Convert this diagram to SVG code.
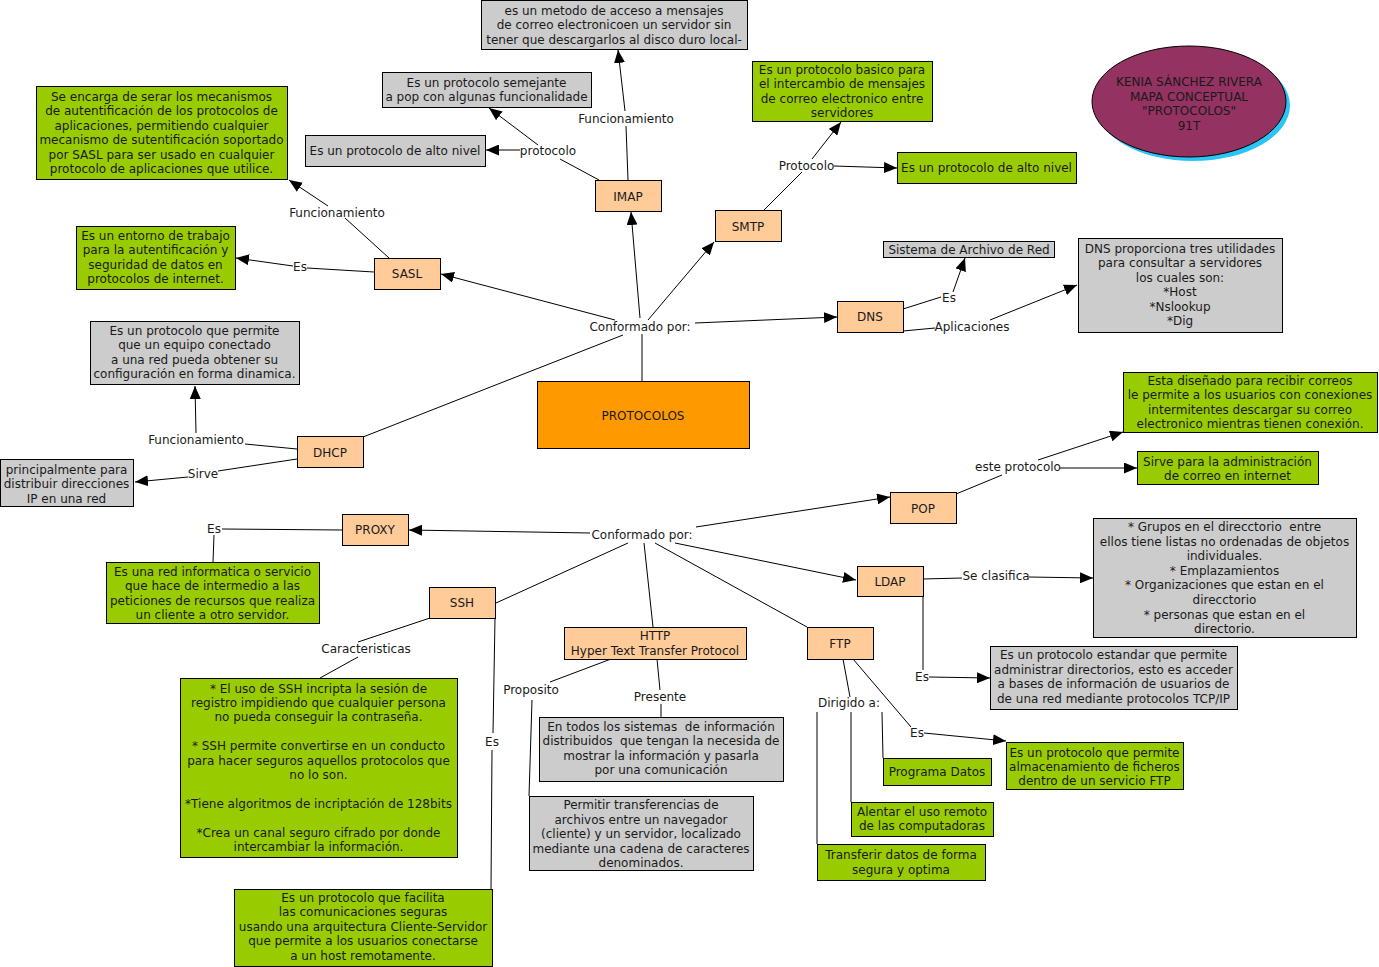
<svg xmlns="http://www.w3.org/2000/svg" width="1379" height="967" viewBox="0 0 1379 967">
<style>
.n{stroke:#000;stroke-width:1}
.pe{fill:#ffcc99}
.gr{fill:#cccccc}
.gn{fill:#99cc00}
text{font-family:"DejaVu Sans",Verdana,sans-serif;font-size:12px;fill:#1a1a1a;text-anchor:middle}
#connectors path{stroke:#000;stroke-width:1;fill:none}
.ar{marker-end:url(#a)}
</style>
<defs>
<marker id="a" markerWidth="13" markerHeight="11" refX="13" refY="5.5" orient="auto" markerUnits="userSpaceOnUse"><path d="M0,0 L13,5.5 L0,11 z" fill="#000"/></marker>
</defs>
<rect width="1379" height="967" fill="#fff"/>
<g id="connectors">
<path d="M642,381 L642,334"/>
<path class="ar" d="M640,318 L631,212"/>
<path class="ar" d="M648,320 L714,242"/>
<path class="ar" d="M615,320 L441,274"/>
<path class="ar" d="M695,323 L837,317"/>
<path d="M623,335 L363,437"/>
<path d="M628,180 L626,126"/>
<path class="ar" d="M625,111 L618,50"/>
<path d="M599,180 L560,159"/>
<path class="ar" d="M520,150 L486,150"/>
<path class="ar" d="M538,145 L489,108"/>
<path d="M389,258 L345,218"/>
<path class="ar" d="M328,206 L289,180"/>
<path d="M374,272 L307,268"/>
<path class="ar" d="M293,266 L236,258"/>
<path d="M764,210 L802,172"/>
<path class="ar" d="M812,159 L841,122"/>
<path class="ar" d="M834,166 L897,168"/>
<path d="M903,309 L941,297"/>
<path class="ar" d="M953,292 L965,258"/>
<path d="M903,331 L935,328"/>
<path class="ar" d="M990,320 L1077,285"/>
<path d="M297,449 L245,444"/>
<path class="ar" d="M196,433 L195,386"/>
<path d="M297,459 L218,471"/>
<path class="ar" d="M188,477 L135,482"/>
<path class="ar" d="M590,533 L409,530"/>
<path d="M342,530 L222,529"/>
<path d="M214,535 L213,562"/>
<path d="M628,543 L496,603"/>
<path d="M430,618 L358,642"/>
<path d="M358,657 L320,678"/>
<path d="M495,618 L493,733"/>
<path d="M492,750 L491,889"/>
<path d="M644,543 L653,627"/>
<path d="M611,659 L550,682"/>
<path d="M532,700 L529,796"/>
<path d="M657,659 L660,690"/>
<path d="M661,704 L661,717"/>
<path d="M655,543 L807,627"/>
<path class="ar" d="M675,543 L856,580"/>
<path class="ar" d="M696,527 L890,497"/>
<path d="M843,659 L850,697"/>
<path d="M817,712 L817,844"/>
<path d="M851,712 L851,802"/>
<path d="M882,712 L883,758"/>
<path d="M853,659 L911,727"/>
<path class="ar" d="M924,733 L1006,741"/>
<path d="M923,579 L962,578"/>
<path class="ar" d="M1029,577 L1093,578"/>
<path d="M923,596 L923,670"/>
<path class="ar" d="M929,677 L990,678"/>
<path d="M956,494 L1002,475"/>
<path class="ar" d="M1038,460 L1123,432"/>
<path class="ar" d="M1060,468 L1137,468"/>
</g>
<g id="labels">
<text x="626" y="122.5">Funcionamiento</text>
<text x="548" y="154.5">protocolo</text>
<text x="337" y="216.5">Funcionamiento</text>
<text x="300" y="271">Es</text>
<text x="806.5" y="169.5">Protocolo</text>
<text x="949" y="302">Es</text>
<text x="972" y="331">Aplicaciones</text>
<text x="640" y="330.5">Conformado por:</text>
<text x="196" y="443.5">Funcionamiento</text>
<text x="203" y="477.5">Sirve</text>
<text x="642" y="538.5">Conformado por:</text>
<text x="214" y="533">Es</text>
<text x="366" y="653">Caracteristicas</text>
<text x="492" y="746">Es</text>
<text x="531" y="694">Proposito</text>
<text x="660" y="701">Presente</text>
<text x="849" y="707">Dirigido a:</text>
<text x="917" y="737">Es</text>
<text x="996" y="579.5">Se clasifica</text>
<text x="922" y="681">Es</text>
<text x="1018" y="471">este protocolo</text>
</g>
<g id="title">
<ellipse cx="1193" cy="105.5" rx="97" ry="55.5" fill="#29c5f6"/>
<ellipse cx="1189" cy="101.5" rx="97" ry="55.5" fill="#943261" stroke="#000"/>
<text x="1189" y="86">KENIA SÁNCHEZ RIVERA</text>
<text x="1189" y="100.5">MAPA CONCEPTUAL</text>
<text x="1189" y="115">&quot;PROTOCOLOS&quot;</text>
<text x="1189" y="129.5">91T</text>
</g>
<g id="protocolos">
<rect class="n" x="537.5" y="381.5" width="212" height="67" fill="#ff9900"/>
<text x="643" y="419.5">PROTOCOLOS</text>
</g>
<g id="imap">
<rect class="n pe" x="595.5" y="180.5" width="66" height="31"/>
<text x="628" y="200.5">IMAP</text>
</g>
<g id="imap-func">
<rect class="n gr" x="481.5" y="0.5" width="266" height="49"/>
<text x="614" y="14.5">es un metodo de acceso a mensajes</text>
<text x="614" y="29">de correo electronicoen un servidor sin</text>
<text x="614" y="43.5">tener que descargarlos al disco duro local-</text>
</g>
<g id="imap-semejante">
<rect class="n gr" x="382.5" y="72.5" width="209" height="35"/>
<text x="486.5" y="86.5">Es un protocolo semejante</text>
<text x="486.5" y="101">a pop con algunas funcionalidade</text>
</g>
<g id="imap-alto">
<rect class="n gr" x="305.5" y="135.5" width="180" height="31"/>
<text x="395" y="154.5">Es un protocolo de alto nivel</text>
</g>
<g id="sasl">
<rect class="n pe" x="374.5" y="258.5" width="66" height="31"/>
<text x="407" y="277.5">SASL</text>
</g>
<g id="sasl-func">
<rect class="n gn" x="36.5" y="86.5" width="251" height="93"/>
<text x="161.5" y="100.5">Se encarga de serar los mecanismos</text>
<text x="161.5" y="115">de autentificación de los protocolos de</text>
<text x="161.5" y="129.5">aplicaciones, permitiendo cualquier</text>
<text x="161.5" y="144">mecanismo de sutentificación soportado</text>
<text x="161.5" y="158.5">por SASL para ser usado en cualquier</text>
<text x="161.5" y="173">protocolo de aplicaciones que utilice.</text>
</g>
<g id="sasl-es">
<rect class="n gn" x="76.5" y="226.5" width="159" height="63"/>
<text x="155.5" y="239.5">Es un entorno de trabajo</text>
<text x="155.5" y="254">para la autentificación y</text>
<text x="155.5" y="268.5">seguridad de datos en</text>
<text x="155.5" y="283">protocolos de internet.</text>
</g>
<g id="smtp">
<rect class="n pe" x="715.5" y="210.5" width="66" height="31"/>
<text x="748" y="230.5">SMTP</text>
</g>
<g id="smtp-desc">
<rect class="n gn" x="752.5" y="61.5" width="180" height="60"/>
<text x="842" y="73.5">Es un protocolo basico para</text>
<text x="842" y="88">el intercambio de mensajes</text>
<text x="842" y="102.5">de correo electronico entre</text>
<text x="842" y="117">servidores</text>
</g>
<g id="smtp-alto">
<rect class="n gn" x="897.5" y="152.5" width="179" height="31"/>
<text x="986.5" y="171.5">Es un protocolo de alto nivel</text>
</g>
<g id="dns">
<rect class="n pe" x="837.5" y="301.5" width="66" height="31"/>
<text x="870" y="320.5">DNS</text>
</g>
<g id="dns-sistema">
<rect class="n gr" x="883.5" y="241.5" width="171" height="16"/>
<text x="969" y="253.5">Sistema de Archivo de Red</text>
</g>
<g id="dns-desc">
<rect class="n gr" x="1078.5" y="238.5" width="204" height="94"/>
<text x="1180" y="252.5">DNS proporciona tres utilidades</text>
<text x="1180" y="267">para consultar a servidores</text>
<text x="1180" y="281.5">los cuales son:</text>
<text x="1180" y="296">*Host</text>
<text x="1180" y="310.5">*Nslookup</text>
<text x="1180" y="325">*Dig</text>
</g>
<g id="dhcp">
<rect class="n pe" x="297.5" y="436.5" width="66" height="31"/>
<text x="330" y="456.5">DHCP</text>
</g>
<g id="dhcp-func">
<rect class="n gr" x="90.5" y="321.5" width="209" height="63"/>
<text x="194.5" y="334.5">Es un protocolo que permite</text>
<text x="194.5" y="349">que un equipo conectado</text>
<text x="194.5" y="363.5">a una red pueda obtener su</text>
<text x="194.5" y="378">configuración en forma dinamica.</text>
</g>
<g id="dhcp-sirve">
<rect class="n gr" x="0.5" y="459.5" width="133" height="47"/>
<text x="66.5" y="473.5">principalmente para</text>
<text x="66.5" y="488">distribuir direcciones</text>
<text x="66.5" y="502.5">IP en una red</text>
</g>
<g id="proxy">
<rect class="n pe" x="342.5" y="514.5" width="66" height="31"/>
<text x="375" y="533.5">PROXY</text>
</g>
<g id="proxy-es">
<rect class="n gn" x="106.5" y="562.5" width="213" height="61"/>
<text x="212.5" y="575.5">Es una red informatica o servicio</text>
<text x="212.5" y="590">que hace de intermedio a las</text>
<text x="212.5" y="604.5">peticiones de recursos que realiza</text>
<text x="212.5" y="619">un cliente a otro servidor.</text>
</g>
<g id="ssh">
<rect class="n pe" x="429.5" y="587.5" width="66" height="31"/>
<text x="462" y="606.5">SSH</text>
</g>
<g id="ssh-car">
<rect class="n gn" x="180.5" y="678.5" width="277" height="179"/>
<text x="318.5" y="692.5">* El uso de SSH incripta la sesión de</text>
<text x="318.5" y="706.9">registro impidiendo que cualquier persona</text>
<text x="318.5" y="721.3">no pueda conseguir la contraseña.</text>
<text x="318.5" y="750.1">* SSH permite convertirse en un conducto</text>
<text x="318.5" y="764.5">para hacer seguros aquellos protocolos que</text>
<text x="318.5" y="778.9">no lo son.</text>
<text x="318.5" y="807.7">*Tiene algoritmos de incriptación de 128bits</text>
<text x="318.5" y="836.5">*Crea un canal seguro cifrado por donde</text>
<text x="318.5" y="850.9">intercambiar la información.</text>
</g>
<g id="ssh-es">
<rect class="n gn" x="234.5" y="889.5" width="258" height="77"/>
<text x="363" y="902">Es un protocolo que facilita</text>
<text x="363" y="916.4">las comunicaciones seguras</text>
<text x="363" y="930.8">usando una arquitectura Cliente-Servidor</text>
<text x="363" y="945.2">que permite a los usuarios conectarse</text>
<text x="363" y="959.6">a un host remotamente.</text>
</g>
<g id="http">
<rect class="n pe" x="564.5" y="627.5" width="182" height="32"/>
<text x="655" y="640">HTTP</text>
<text x="655" y="655">Hyper Text Transfer Protocol</text>
</g>
<g id="http-presente">
<rect class="n gr" x="539.5" y="717.5" width="244" height="64"/>
<text x="661" y="731" xml:space="preserve">En todos los sistemas  de información</text>
<text x="661" y="745.4" xml:space="preserve">distribuidos  que tengan la necesida de</text>
<text x="661" y="759.8">mostrar la información y pasarla</text>
<text x="661" y="774.2">por una comunicación</text>
</g>
<g id="http-proposito">
<rect class="n gr" x="529.5" y="796.5" width="224" height="74"/>
<text x="641" y="809.3">Permitir transferencias de</text>
<text x="641" y="823.7">archivos entre un navegador</text>
<text x="641" y="838.1">(cliente) y un servidor, localizado</text>
<text x="641" y="852.5">mediante una cadena de caracteres</text>
<text x="641" y="866.9">denominados.</text>
</g>
<g id="ftp">
<rect class="n pe" x="807.5" y="627.5" width="66" height="32"/>
<text x="840" y="647.5">FTP</text>
</g>
<g id="ftp-programa">
<rect class="n gn" x="883.5" y="758.5" width="108" height="27"/>
<text x="937" y="775.5">Programa Datos</text>
</g>
<g id="ftp-alentar">
<rect class="n gn" x="851.5" y="802.5" width="142" height="34"/>
<text x="922" y="816">Alentar el uso remoto</text>
<text x="922" y="830.4">de las computadoras</text>
</g>
<g id="ftp-transferir">
<rect class="n gn" x="817.5" y="844.5" width="168" height="36"/>
<text x="901" y="859.3">Transferir datos de forma</text>
<text x="901" y="873.7">segura y optima</text>
</g>
<g id="ftp-es">
<rect class="n gn" x="1006.5" y="742.5" width="177" height="47"/>
<text x="1094.5" y="756.6">Es un protocolo que permite</text>
<text x="1094.5" y="771">almacenamiento de ficheros</text>
<text x="1094.5" y="785.4">dentro de un servicio FTP</text>
</g>
<g id="pop">
<rect class="n pe" x="890.5" y="492.5" width="66" height="31"/>
<text x="923" y="512.5">POP</text>
</g>
<g id="pop-desc">
<rect class="n gn" x="1123.5" y="372.5" width="254" height="60"/>
<text x="1250" y="385">Esta diseñado para recibir correos</text>
<text x="1250" y="399.4">le permite a los usuarios con conexiones</text>
<text x="1250" y="413.8">intermitentes descargar su correo</text>
<text x="1250" y="428.2">electronico mientras tienen conexión.</text>
</g>
<g id="pop-sirve">
<rect class="n gn" x="1137.5" y="451.5" width="181" height="33"/>
<text x="1227.5" y="465.6">Sirve para la administración</text>
<text x="1227.5" y="480">de correo en internet</text>
</g>
<g id="ldap">
<rect class="n pe" x="857.5" y="566.5" width="66" height="30"/>
<text x="890" y="585.5">LDAP</text>
</g>
<g id="ldap-clasifica">
<rect class="n gr" x="1093.5" y="518.5" width="263" height="119"/>
<text x="1224.5" y="531" xml:space="preserve">* Grupos en el direcctorio  entre</text>
<text x="1224.5" y="545.6">ellos tiene listas no ordenadas de objetos</text>
<text x="1224.5" y="560.2">individuales.</text>
<text x="1224.5" y="574.8">* Emplazamientos</text>
<text x="1224.5" y="589.4">* Organizaciones que estan en el</text>
<text x="1224.5" y="604">direcctorio</text>
<text x="1224.5" y="618.6">* personas que estan en el</text>
<text x="1224.5" y="633.2">directorio.</text>
</g>
<g id="ldap-es">
<rect class="n gr" x="990.5" y="646.5" width="247" height="63"/>
<text x="1113.5" y="659.3">Es un protocolo estandar que permite</text>
<text x="1113.5" y="674">administrar directorios, esto es acceder</text>
<text x="1113.5" y="688.3">a bases de información de usuarios de</text>
<text x="1113.5" y="703">de una red mediante protocolos TCP/IP</text>
</g>
</svg>
